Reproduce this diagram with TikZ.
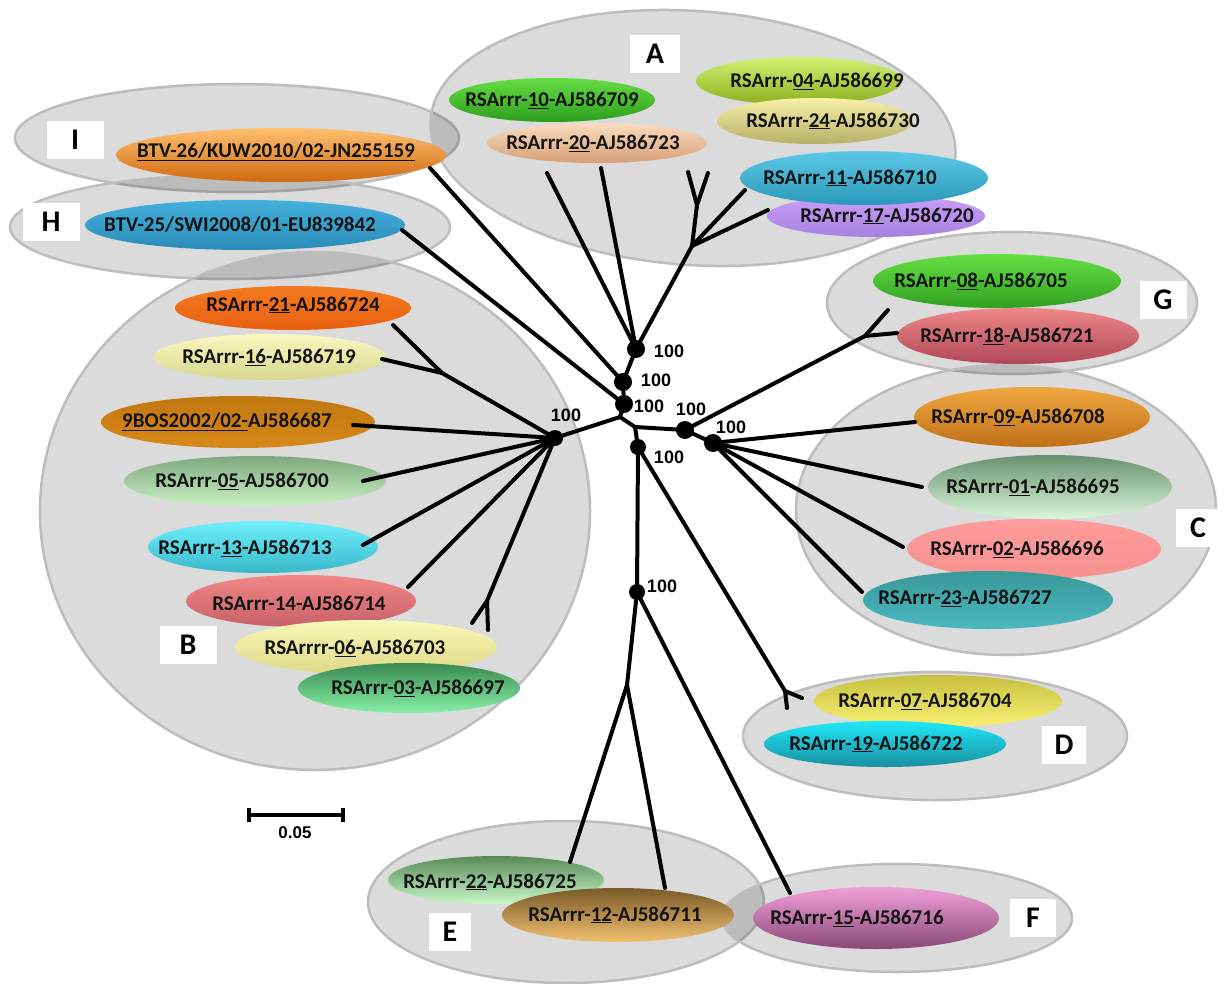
\documentclass[tikz,border=0pt]{standalone}
\usepackage{fontspec}
\setmainfont{Carlito}
\newfontfamily\arialf{Liberation Sans}
\usetikzlibrary{shapes.geometric}
\definecolor{cIa}{HTML}{FFC070}\definecolor{cIb}{HTML}{F7901E}\definecolor{cIc}{HTML}{D06A10}
\definecolor{cHa}{HTML}{45B0DD}\definecolor{cHb}{HTML}{2A8CB8}
\definecolor{c10a}{HTML}{66DD44}\definecolor{c10b}{HTML}{2E9E1E}
\definecolor{c20a}{HTML}{F8DCBE}\definecolor{c20b}{HTML}{D8A078}
\definecolor{c04a}{HTML}{D4F070}\definecolor{c04b}{HTML}{8CB020}
\definecolor{c24a}{HTML}{F8F0A8}\definecolor{c24b}{HTML}{B8B068}
\definecolor{c11a}{HTML}{5CC8E8}\definecolor{c11b}{HTML}{2A98B8}
\definecolor{c17a}{HTML}{C8A0F8}\definecolor{c17b}{HTML}{A880E0}
\definecolor{c08a}{HTML}{66E044}\definecolor{c08b}{HTML}{30A020}
\definecolor{c18a}{HTML}{EE8888}\definecolor{c18b}{HTML}{B04858}
\definecolor{c09a}{HTML}{F0A840}\definecolor{c09b}{HTML}{F09828}\definecolor{c09c}{HTML}{C07018}
\definecolor{c01a}{HTML}{6A9070}\definecolor{c01b}{HTML}{D8F8D8}
\definecolor{c02a}{HTML}{FF9C9C}\definecolor{c02b}{HTML}{F49090}
\definecolor{c23a}{HTML}{3A9898}\definecolor{c23b}{HTML}{80F0F0}\definecolor{c23c}{HTML}{4AB8C0}
\definecolor{c07a}{HTML}{C8C040}\definecolor{c07b}{HTML}{F0E858}\definecolor{c07c}{HTML}{F8F070}
\definecolor{c19a}{HTML}{20E8F8}\definecolor{c19b}{HTML}{1890A0}
\definecolor{c15a}{HTML}{F0A0D8}\definecolor{c15b}{HTML}{8A4878}
\definecolor{c22a}{HTML}{5A8A5A}\definecolor{c22b}{HTML}{C8F8C8}
\definecolor{c12a}{HTML}{7A5A28}\definecolor{c12b}{HTML}{E0B060}\definecolor{c12c}{HTML}{F0C070}
\definecolor{c21a}{HTML}{F47A20}\definecolor{c21b}{HTML}{E86010}
\definecolor{c16a}{HTML}{F8F8C0}\definecolor{c16b}{HTML}{D8D890}
\definecolor{c9Ba}{HTML}{C07810}\definecolor{c9Bb}{HTML}{E09020}\definecolor{c9Bc}{HTML}{D88818}
\definecolor{c05a}{HTML}{80A880}\definecolor{c05b}{HTML}{D0F0C8}\definecolor{c05c}{HTML}{C8F0C0}
\definecolor{c13a}{HTML}{70F0FF}\definecolor{c13b}{HTML}{38B8C8}
\definecolor{c14a}{HTML}{F08888}\definecolor{c14b}{HTML}{C86068}
\definecolor{c06a}{HTML}{F8F8B8}\definecolor{c06b}{HTML}{E0D888}
\definecolor{c03a}{HTML}{3A8A50}\definecolor{c03b}{HTML}{88F0A8}
\definecolor{grpline}{HTML}{BDBDBD}
\begin{document}
\begin{tikzpicture}[x=1pt,y=-1pt,
  grp/.style={ellipse, draw=grpline, line width=2.5pt, fill=black, fill opacity=0.14, draw opacity=1, inner sep=0pt},
  leaf/.style={ellipse, draw=none, inner sep=0pt},
  txt/.style={font=\bfseries\fontsize{21}{24}\selectfont, text=black!92, inner sep=0pt},
  tag/.style={fill=white, minimum width=50, minimum height=38, inner sep=0pt, font=\bfseries\fontsize{30}{30}\selectfont},
  br/.style={line width=4pt, line cap=round, line join=round},
  dot/.style={circle, fill=black, minimum size=18, inner sep=0pt},
  bs/.style={font=\arialf\bfseries\fontsize{18}{18}\selectfont, inner sep=0pt}
]
\useasboundingbox (0,0) rectangle (1228,984);
\fill[white] (0,0) rectangle (1228,984);

% group ellipses
\node[grp, minimum width=444, minimum height=108] (gI) at (237,138) {};
\node[grp, minimum width=440, minimum height=104] (gH) at (230,227) {};
\node[grp, minimum width=526, minimum height=254, rotate=-4] (gA) at (693,138) {};
\node[grp, minimum width=550, minimum height=518] (gB) at (315,511) {};
\node[grp, minimum width=370, minimum height=142] (gG) at (1012,303) {};
\node[grp, minimum width=420, minimum height=290] (gC) at (1006,510) {};
\node[grp, minimum width=384, minimum height=128] (gD) at (935,736) {};
\node[grp, minimum width=396, minimum height=162] (gE) at (566,902) {};
\node[grp, minimum width=350, minimum height=108] (gF) at (897,918) {};

% leaf ellipses
\node[leaf, minimum width=330, minimum height=54, top color=cIa, middle color=cIb, bottom color=cIc] (lI) at (281,155) {};
\node[leaf, minimum width=320, minimum height=50, top color=cHa, bottom color=cHb] (lH) at (245,225) {};
\node[leaf, minimum width=206, minimum height=44, top color=c10a, bottom color=c10b] (l10) at (552,100) {};
\node[leaf, minimum width=220, minimum height=40, top color=c20a, bottom color=c20b] (l20) at (597,143) {};
\node[leaf, minimum width=206, minimum height=48, top color=c04a, bottom color=c04b] (l04) at (799,81) {};
\node[leaf, minimum width=196, minimum height=46, top color=c24a, bottom color=c24b] (l24) at (815,121) {};
\node[leaf, minimum width=218, minimum height=42, top color=c17a, bottom color=c17b] (l17) at (876,216) {};
\node[leaf, minimum width=248, minimum height=54, top color=c11a, bottom color=c11b] (l11) at (864,178) {};
\node[leaf, minimum width=248, minimum height=54, top color=c08a, bottom color=c08b] (l08) at (997,281) {};
\node[leaf, minimum width=242, minimum height=56, top color=c18a, bottom color=c18b] (l18) at (1018,336) {};
\node[leaf, minimum width=236, minimum height=60, top color=c09a, middle color=c09b, bottom color=c09c] (l09) at (1032,417) {};
\node[leaf, minimum width=244, minimum height=64, top color=c01a, bottom color=c01b] (l01) at (1050,487) {};
\node[leaf, minimum width=254, minimum height=60, top color=c02a, bottom color=c02b] (l02) at (1034,549) {};
\node[leaf, minimum width=250, minimum height=58, top color=c23a, middle color=c23b, bottom color=c23c] (l23) at (988,600) {};
\node[leaf, minimum width=248, minimum height=52, top color=c07a, middle color=c07b, bottom color=c07c] (l07) at (938,701) {};
\node[leaf, minimum width=242, minimum height=46, top color=c19a, bottom color=c19b] (l19) at (885,744) {};
\node[leaf, minimum width=246, minimum height=62, top color=c15a, bottom color=c15b] (l15) at (876,918) {};
\node[leaf, minimum width=216, minimum height=48, top color=c22a, bottom color=c22b] (l22) at (496,880) {};
\node[leaf, minimum width=232, minimum height=54, top color=c12a, middle color=c12b, bottom color=c12c] (l12) at (618,915) {};
\node[leaf, minimum width=236, minimum height=44, top color=c21a, bottom color=c21b] (l21) at (293,308) {};
\node[leaf, minimum width=232, minimum height=46, top color=c16a, bottom color=c16b] (l16) at (270,357) {};
\node[leaf, minimum width=274, minimum height=52, top color=c9Ba, middle color=c9Bb, bottom color=c9Bc] (l9B) at (238,422) {};
\node[leaf, minimum width=262, minimum height=50, top color=c05a, middle color=c05b, bottom color=c05c] (l05) at (255,481) {};
\node[leaf, minimum width=230, minimum height=52, top color=c13a, bottom color=c13b] (l13) at (263,547) {};
\node[leaf, minimum width=230, minimum height=52, top color=c14a, bottom color=c14b] (l14) at (301,601) {};
\node[leaf, minimum width=262, minimum height=54, top color=c06a, bottom color=c06b] (l06) at (366,647) {};
\node[leaf, minimum width=222, minimum height=50, top color=c03a, bottom color=c03b] (l03) at (409,688) {};

% leaf texts
\node[txt] (tI) at (276,152) {\underline{BTV-26/KUW2010/02-JN255159}};
\node[txt] (tH) at (240,225) {BTV-25/SWI2008/01-EU839842};
\node[txt] (t10) at (552,100) {RSArrr-\underline{10}-AJ586709};
\node[txt] (t20) at (593,143) {RSArrr-\underline{20}-AJ586723};
\node[txt] (t04) at (817,81) {RSArrr-\underline{04}-AJ586699};
\node[txt] (t24) at (833,121) {RSArrr-\underline{24}-AJ586730};
\node[txt] (t11) at (850,178) {RSArrr-\underline{11}-AJ586710};
\node[txt] (t17) at (887,216) {RSArrr-\underline{17}-AJ586720};
\node[txt] (t08) at (981,281) {RSArrr-\underline{08}-AJ586705};
\node[txt] (t18) at (1007,336) {RSArrr-\underline{18}-AJ586721};
\node[txt] (t09) at (1018,417) {RSArrr-\underline{09}-AJ586708};
\node[txt] (t01) at (1033,487) {RSArrr-\underline{01}-AJ586695};
\node[txt] (t02) at (1017,549) {RSArrr-\underline{02}-AJ586696};
\node[txt] (t23) at (965,598) {RSArrr-\underline{23}-AJ586727};
\node[txt] (t07) at (925,701) {RSArrr-\underline{07}-AJ586704};
\node[txt] (t19) at (876,744) {RSArrr-\underline{19}-AJ586722};
\node[txt] (t15) at (857,918) {RSArrr-\underline{15}-AJ586716};
\node[txt] (t22) at (490,882) {RSArrr-\underline{22}-AJ586725};
\node[txt] (t12) at (615,915) {RSArrr-\underline{12}-AJ586711};
\node[txt] (t21) at (293,305) {RSArrr-\underline{21}-AJ586724};
\node[txt] (t16) at (269,357) {RSArrr-\underline{16}-AJ586719};
\node[txt] (t9B) at (227,422) {\underline{9BOS2002/02-}AJ586687};
\node[txt] (t05) at (242,481) {RSArrr-\underline{05}-AJ586700};
\node[txt] (t13) at (245,548) {RSArrr-\underline{13}-AJ586713};
\node[txt] (t14) at (299,603) {RSArrr-14-AJ586714};
\node[txt] (t06) at (355,648) {RSArrrr-\underline{06}-AJ586703};
\node[txt] (t03) at (418,688) {RSArrr-\underline{03}-AJ586697};

% group tags
\node[tag] (kA) at (655,54) {A};
\node[tag, minimum width=57] (kI) at (75,140) {I};
\node[tag, minimum width=57] (kH) at (51,222) {H};
\node[tag, minimum width=47] (kG) at (1163,300) {G};
\node[tag, minimum width=45] (kC) at (1198,528) {C};
\node[tag, minimum width=57] (kB) at (188,645) {B};
\node[tag, minimum width=44] (kD) at (1064,745) {D};
\node[tag, minimum width=42] (kE) at (450,932) {E};
\node[tag, minimum width=46] (kF) at (1033,918) {F};

% tree coordinates
\coordinate (root) at (620,417);
\coordinate (nA) at (636,349);
\coordinate (n2) at (623,382);
\coordinate (n3) at (624,404);
\coordinate (nB) at (555,438);
\coordinate (k1) at (635,427);
\coordinate (nCG) at (685,430);
\coordinate (nC) at (713,443);
\coordinate (nDEF) at (638,447);
\coordinate (nEF) at (637,592);
\coordinate (jG) at (865,336);
\coordinate (jE) at (627,685);
\coordinate (jD) at (785,691);
\coordinate (jB1) at (442,373);
\coordinate (jB2) at (487,601);
\coordinate (jA1) at (692,246);
\coordinate (jA2) at (697,205);
% leaf ends
\coordinate (eI) at (430,168);
\coordinate (eH) at (402,230);
\coordinate (e10) at (547,173);
\coordinate (e20) at (601,168);
\coordinate (e04) at (688,172);
\coordinate (e24) at (708,173);
\coordinate (e11) at (745,190);
\coordinate (e17) at (768,210);
\coordinate (e08) at (888,310);
\coordinate (e18) at (897,333);
\coordinate (e09) at (915,422);
\coordinate (e01) at (922,487);
\coordinate (e02) at (903,547);
\coordinate (e23) at (862,592);
\coordinate (e07) at (802,698);
\coordinate (e19) at (787,708);
\coordinate (e15) at (790,893);
\coordinate (e22) at (570,862);
\coordinate (e12) at (665,888);
\coordinate (e21) at (393,325);
\coordinate (e16) at (382,359);
\coordinate (e9B) at (353,425);
\coordinate (e05) at (363,481);
\coordinate (e13) at (363,545);
\coordinate (e14) at (408,587);
\coordinate (e06) at (472,623);
\coordinate (e03) at (488,630);

% branches
\draw[br] (eI) -- (n2) -- (nA);
\draw[br] (eH) -- (n3) -- (root);
\draw[br] (n2) -- (n3);
\draw[br] (nA) -- (e10);
\draw[br] (nA) -- (e20);
\draw[br] (nA) -- (jA1) -- (jA2) -- (e04);
\draw[br] (jA2) -- (e24);
\draw[br] (jA1) -- (e11);
\draw[br] (jA1) -- (e17);
\draw[br] (root) -- (nB);
\draw[br] (nB) -- (jB1) -- (e21);
\draw[br] (jB1) -- (e16);
\draw[br] (nB) -- (e9B);
\draw[br] (nB) -- (e05);
\draw[br] (nB) -- (e13);
\draw[br] (nB) -- (e14);
\draw[br] (nB) -- (jB2) -- (e06);
\draw[br] (jB2) -- (e03);
\draw[br] (root) -- (k1) -- (nCG) -- (nC);
\draw[br] (nCG) -- (jG) -- (e08);
\draw[br] (jG) -- (e18);
\draw[br] (nC) -- (e09);
\draw[br] (nC) -- (e01);
\draw[br] (nC) -- (e02);
\draw[br] (nC) -- (e23);
\draw[br] (k1) -- (nDEF) -- (nEF);
\draw[br] (nDEF) -- (jD) -- (e07);
\draw[br] (jD) -- (e19);
\draw[br] (nEF) -- (jE) -- (e22);
\draw[br] (jE) -- (e12);
\draw[br] (nEF) -- (e15);

% bootstrap dots
\node[dot] (dA) at (nA) {};
\node[dot] (d2) at (n2) {};
\node[dot] (d3) at (n3) {};
\node[dot, minimum size=16] (dB) at (nB) {};
\node[dot] (dCG) at (nCG) {};
\node[dot] (dC) at (nC) {};
\node[dot, minimum size=16] (dDEF) at (nDEF) {};
\node[dot, minimum size=16] (dEF) at (nEF) {};

\node[bs] (bA) at (669,351) {100};
\node[bs] (b2) at (656,380) {100};
\node[bs] (b3) at (649,406) {100};
\node[bs] (bB) at (566,415) {100};
\node[bs] (bCG) at (691,409) {100};
\node[bs] (bC) at (731,427) {100};
\node[bs] (bDEF) at (669,457) {100};
\node[bs] (bEF) at (662,586) {100};

% scale bar
\coordinate (s1) at (248,815);
\coordinate (s2) at (344,815);
\draw[line width=3.5pt] (s1) -- (s2);
\draw[line width=3.5pt] (249,808) -- (249,822);
\draw[line width=3.5pt] (343,808) -- (343,822);
\node[bs, font=\arialf\bfseries\fontsize{17}{17}\selectfont] (sl) at (295,833) {0.05};
\end{tikzpicture}
\end{document}
